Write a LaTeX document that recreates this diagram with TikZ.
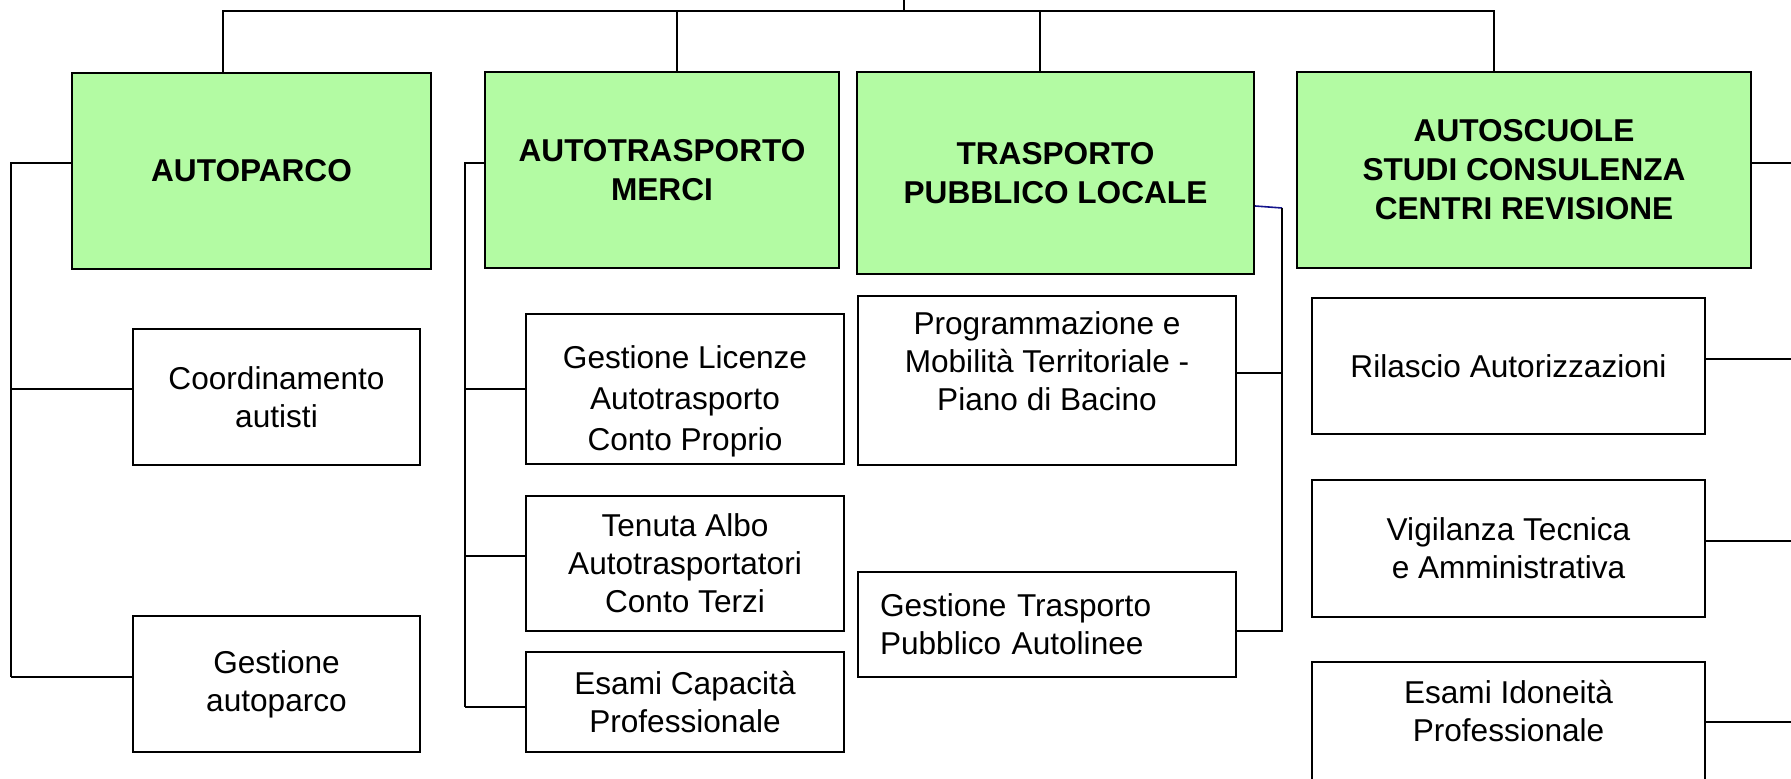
\documentclass[tikz,border=0pt]{standalone}
\usepackage{fontspec}
\setmainfont{Liberation Sans}
\usetikzlibrary{positioning}

\definecolor{headgreen}{RGB}{179,251,163}
\definecolor{linkblue}{RGB}{20,20,140}

\begin{document}
\begin{tikzpicture}[
    x=0.5pt, y=0.5pt,
    font=\fontsize{15.8}{19}\selectfont,
    headbox/.style={draw=black, fill=headgreen, line width=1pt, inner sep=0pt,
                    align=center, font=\bfseries\fontsize{15.8}{19.5}\selectfont},
    unitbox/.style={draw=black, fill=white, line width=1pt, inner sep=0pt, align=center},
    link/.style={draw=black, line width=1pt},
]

% ===== Frame =====
\path[use as bounding box, clip] (0,0) rectangle (1791,-779);

% ===== Sector boxes (top row) =====
\node[headbox, minimum width=179.5pt, minimum height=98pt]  (autoparco) at (251.5,-171) {AUTOPARCO};
\node[headbox, minimum width=177pt,   minimum height=98pt]  (merci)     at (662,-170)   {AUTOTRASPORTO\\MERCI};
\node[headbox, minimum width=198.5pt, minimum height=101pt] (tpl)       at (1055.5,-173) {TRASPORTO\\PUBBLICO LOCALE};
\node[headbox, minimum width=227pt,   minimum height=98pt]  (scuole)    at (1524,-170)  {AUTOSCUOLE\\STUDI CONSULENZA\\CENTRI REVISIONE};

% ===== Units under each sector =====
% Autoparco
\node[unitbox, minimum width=143.5pt, minimum height=68pt] (coord)  at (276.5,-397) {Coordinamento\\autisti};
\node[unitbox, minimum width=143.5pt, minimum height=68pt] (gestap) at (276.5,-684) {Gestione\\autoparco};

% Autotrasporto merci
\node[unitbox, minimum width=159pt, minimum height=75pt]   (licenze) at (685,-389)   {};
\node[align=center, font=\fontsize{15.8}{20.5}\selectfont] (licenzeText) at ([yshift=-6pt]licenze.center)
    {Gestione Licenze\\Autotrasporto\\Conto Proprio};
\node[unitbox, minimum width=159pt, minimum height=67.5pt] (albo)    at (685,-563.5) {Tenuta Albo\\Autotrasportatori\\Conto Terzi};
\node[unitbox, minimum width=159pt, minimum height=50pt]   (capac)   at (685,-702)   {Esami Capacità\\Professionale};

% Trasporto pubblico locale
\node[unitbox, minimum width=189pt, minimum height=84.5pt] (progr) at (1047,-380.5)
    {Programmazione e\\Mobilità Territoriale -\\Piano di Bacino\\~};
\node[unitbox, text width=167pt, inner xsep=11pt, minimum height=52.5pt, align=left] (autolinee) at (1047,-624.5)
    {Gestione Trasporto\\Pubblico Autolinee};

% Autoscuole
\node[unitbox, minimum width=196.5pt, minimum height=68pt]   (rilascio) at (1508.5,-366)   {Rilascio Autorizzazioni};
\node[unitbox, minimum width=196.5pt, minimum height=68.5pt] (vigil)    at (1508.5,-548.5) {Vigilanza Tecnica\\e Amministrativa};
\node[unitbox, minimum width=196.5pt, minimum height=68pt]   (idon)     at (1508.5,-730)   {Esami Idoneità\\Professionale\\~};

% ===== Top bus =====
\coordinate (root) at (904,0);
\coordinate (bus)  at (904,-11);
\coordinate (dA) at ([xshift=-14.25pt]autoparco.north);
\coordinate (dB) at ([xshift=7.5pt]merci.north);
\coordinate (dC) at ([xshift=-7.75pt]tpl.north);
\coordinate (dD) at ([xshift=-15pt]scuole.north);

\draw[link] (root) -- (bus);
\draw[link] (dA) |- (bus) -| (dD);
\foreach \d in {dB, dC} {
    \draw[link] (\d) -- (\d |- bus);
}

% ===== Left spines =====
\coordinate (spineA) at (11,0);
\coordinate (spineB) at (465,0);

\draw[link] ([yshift=3.5pt]merci.west -| autoparco.west) -| ([yshift=3.5pt]gestap.west -| spineA);
\foreach \n/\s in {coord/4, gestap/3.5} {
    \draw[link] ([yshift=\s pt]\n.west) -- ([yshift=\s pt]\n.west -| spineA);
}

\draw[link] ([yshift=3.5pt]merci.west) -| ([yshift=-2.5pt]capac.west -| spineB);
\foreach \n/\s in {licenze/0, albo/3.75, capac/-2.5} {
    \draw[link] ([yshift=\s pt]\n.west) -- ([yshift=\s pt]\n.west -| spineB);
}

% ===== TPL spine (right of its units) =====
\coordinate (tplJoint) at (1282,-208);
\draw[linkblue, line width=0.8pt] ([yshift=-16.5pt]tpl.east) -- (tplJoint);
\draw[link] (tplJoint) |- ([yshift=-3.25pt]autolinee.east);
\draw[link] ([yshift=3.75pt]progr.east) -- ([yshift=3.75pt]progr.east -| tplJoint);

% ===== Right side links (run off the page) =====
\coordinate (edgeR) at (1800,0);
\foreach \n/\s in {scuole/3.5, rilascio/3.5, vigil/3.75, idon/4} {
    \draw[link] ([yshift=\s pt]\n.east) -- ([yshift=\s pt]\n.east -| edgeR);
}

\end{tikzpicture}
\end{document}
